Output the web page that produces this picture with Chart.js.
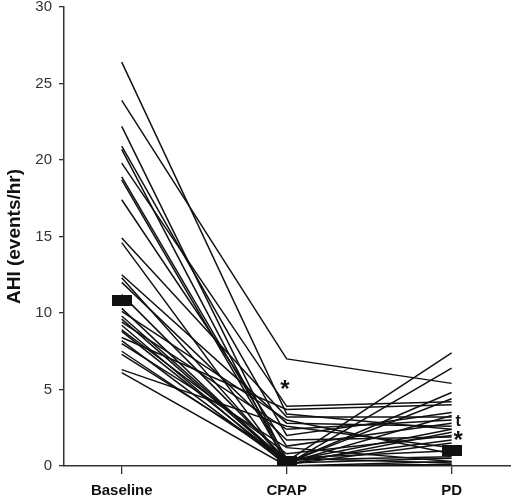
<!DOCTYPE html>
<html>
<head>
<meta charset="utf-8">
<script src="https://cdn.jsdelivr.net/npm/chart.js@4.4.1/dist/chart.umd.min.js"></script>
<style>
  html, body { margin: 0; padding: 0; background: #fff; overflow: hidden; }
  #wrap { width: 511px; height: 498px; }
</style>
</head>
<body>
<div id="wrap"><canvas id="chart"></canvas></div>
<script>
const categories = ["Baseline", "CPAP", "PD"];
const yTicks = [0, 5, 10, 15, 20, 25, 30];

// one entry per subject
const baseline = [26.4, 23.9, 22.2, 20.9, 20.7, 19.8, 18.9, 18.7, 17.4, 14.9, 14.6, 12.5, 12.3, 12.0, 11.2,
                  10.3, 10.1, 9.8, 9.4, 9.2, 8.9, 8.8, 8.4, 8.2, 8.0, 7.5, 7.3, 6.3, 6.1, 9.6];
const cpap     = [3.4, 7.0, 0.3, 2.0, 0.1, 3.9, 0.5, 0.2, 1.3, 3.2, 0.0, 2.8, 0.2, 1.7, 0.4,
                  0.1, 3.0, 0.3, 2.4, 0.0, 0.8, 0.2, 3.7, 0.1, 1.2, 0.3, 0.5, 2.6, 0.0, 0.2];
const pd       = [2.4, 5.4, 7.4, 3.5, 6.4, 4.2, 1.0, 4.8, 2.8, 3.2, 0.3, 2.6, 4.4, 1.9, 0.6,
                  2.2, 0.8, 1.7, 3.0, 0.1, 2.0, 0.5, 4.0, 1.5, 0.3, 2.4, 0.2, 1.2, 0.1, 3.3];

// medians per condition
const medians = [10.8, 0.3, 1.0];

// significance marks: category index, value, symbol
const marks = [
  { cat: 0.99, value: 5.2, text: "*" },
  { cat: 2.04, value: 2.9, text: "t" },
  { cat: 2.04, value: 1.9, text: "*" }
];

const FONT = "'Liberation Sans', Arial, sans-serif";

const box = document.createElement("canvas");
box.width = 20;
box.height = 11;
const bctx = box.getContext("2d");
bctx.fillStyle = "#111";
bctx.fillRect(0, 0, 20, 11);

const datasets = baseline.map((b, i) => ({
  data: [{ x: 0, y: b }, { x: 1, y: cpap[i] }, { x: 2, y: pd[i] }],
  borderColor: "#111",
  borderWidth: 1.5,
  pointRadius: 0,
  fill: false,
  tension: 0
}));

datasets.push({
  data: medians.map((m, i) => ({ x: i, y: m })),
  showLine: false,
  pointStyle: box,
  pointRadius: 10,
  borderWidth: 0
});

const markPlugin = {
  id: "marks",
  afterDatasetsDraw(chart) {
    const { ctx, scales } = chart;
    ctx.save();
    ctx.fillStyle = "#111";
    ctx.textAlign = "center";
    ctx.textBaseline = "middle";
    marks.forEach(m => {
      const star = m.text === "*";
      ctx.font = star ? "bold 24px " + FONT : "bold 16px " + FONT;
      ctx.fillText(m.text, scales.x.getPixelForValue(m.cat), scales.y.getPixelForValue(m.value) + (star ? 4 : 0));
    });
    ctx.restore();
  }
};

new Chart(document.getElementById("chart"), {
  type: "line",
  data: { datasets },
  plugins: [markPlugin],
  options: {
    animation: false,
    responsive: true,
    maintainAspectRatio: false,
    layout: { autoPadding: false, padding: { top: 7, right: 0, left: 0, bottom: 0 } },
    plugins: {
      legend: { display: false },
      tooltip: { enabled: false }
    },
    scales: {
      x: {
        type: "linear",
        min: -0.35,
        max: 2.36,
        afterBuildTicks(scale) {
          scale.ticks = categories.map((c, i) => ({ value: i }));
        },
        afterFit(scale) {
          scale.height = 32;
          scale.paddingLeft = 0;
          scale.paddingRight = 0;
        },
        ticks: {
          color: "#111",
          font: { family: FONT, size: 15, weight: "bold" },
          padding: 8,
          maxRotation: 0,
          callback: v => categories[v]
        },
        grid: { drawOnChartArea: false, drawTicks: true, tickLength: 8, color: "#333", lineWidth: 1.3 },
        border: { display: true, color: "#333", width: 1.5 }
      },
      y: {
        min: 0,
        max: 30,
        afterBuildTicks(scale) {
          scale.ticks = yTicks.map(v => ({ value: v }));
        },
        afterFit(scale) {
          scale.width = 64;
          scale.paddingTop = 0;
          scale.paddingBottom = 0;
        },
        ticks: {
          color: "#333",
          font: { family: FONT, size: 15 },
          padding: 7
        },
        title: {
          display: true,
          text: "AHI (events/hr)",
          color: "#111",
          font: { family: FONT, size: 19, weight: "bold" },
          padding: { top: 3, bottom: 0 }
        },
        grid: { drawOnChartArea: false, drawTicks: true, tickLength: 5, color: "#333", lineWidth: 1.3 },
        border: { display: true, color: "#333", width: 1.5 }
      }
    }
  }
});
</script>
</body>
</html>
